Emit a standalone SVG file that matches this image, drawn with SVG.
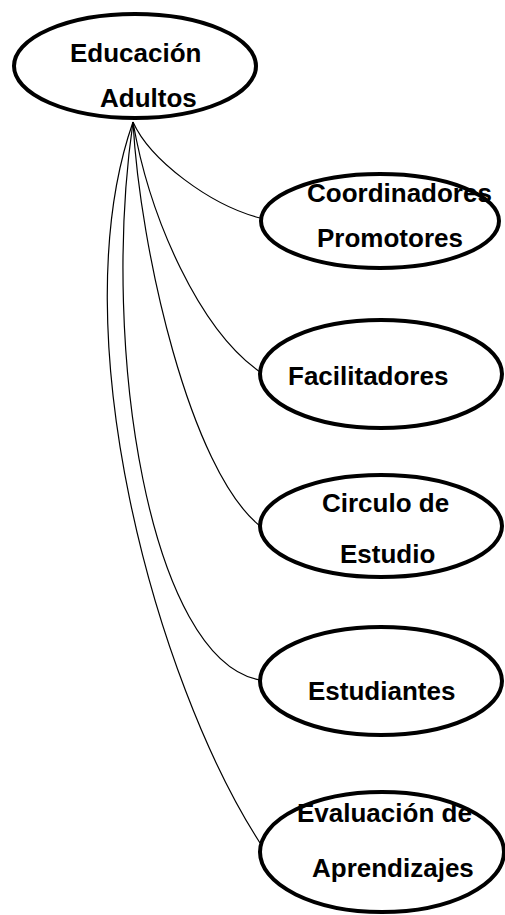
<svg xmlns="http://www.w3.org/2000/svg" width="505" height="915" viewBox="0 0 505 915">
<style>
.node ellipse{fill:#fff;stroke:#000;stroke-width:4}
.node text{font-family:"Liberation Sans",Arial,sans-serif;font-weight:bold;font-size:26px;fill:#000}
.edges path{fill:none;stroke:#000;stroke-width:1.2}
</style>
<rect width="505" height="915" fill="#fff"/>
<g id="connectors" class="edges">
<path d="M133,122 C150,160 210,205 260,218"/>
<path d="M133,122 C150,220 200,330 260,372"/>
<path d="M133,122 C140,250 190,470 260,526"/>
<path d="M133,122 C100,350 150,660 260,680"/>
<path d="M133,122 C60,330 155,680 260,843"/>
</g>
<g id="educacion-adultos" class="node">
<ellipse cx="135" cy="66" rx="121" ry="52"/>
<text x="70" y="62">Educación</text>
<text x="100" y="107">Adultos</text>
</g>
<g id="coordinadores-promotores" class="node">
<ellipse cx="380" cy="221" rx="119" ry="47"/>
<text x="307" y="202">Coordinadores</text>
<text x="317" y="247">Promotores</text>
</g>
<g id="facilitadores" class="node">
<ellipse cx="381" cy="374" rx="121" ry="54"/>
<text x="288" y="385">Facilitadores</text>
</g>
<g id="circulo-estudio" class="node">
<ellipse cx="381" cy="526" rx="121" ry="51"/>
<text x="322" y="512">Circulo de</text>
<text x="340" y="563">Estudio</text>
</g>
<g id="estudiantes" class="node">
<ellipse cx="381" cy="681" rx="121" ry="54"/>
<text x="308" y="700">Estudiantes</text>
</g>
<g id="evaluacion-aprendizajes" class="node">
<ellipse cx="382" cy="852" rx="122" ry="60"/>
<text x="297" y="822">Evaluación de</text>
<text x="312" y="877">Aprendizajes</text>
</g>
</svg>
